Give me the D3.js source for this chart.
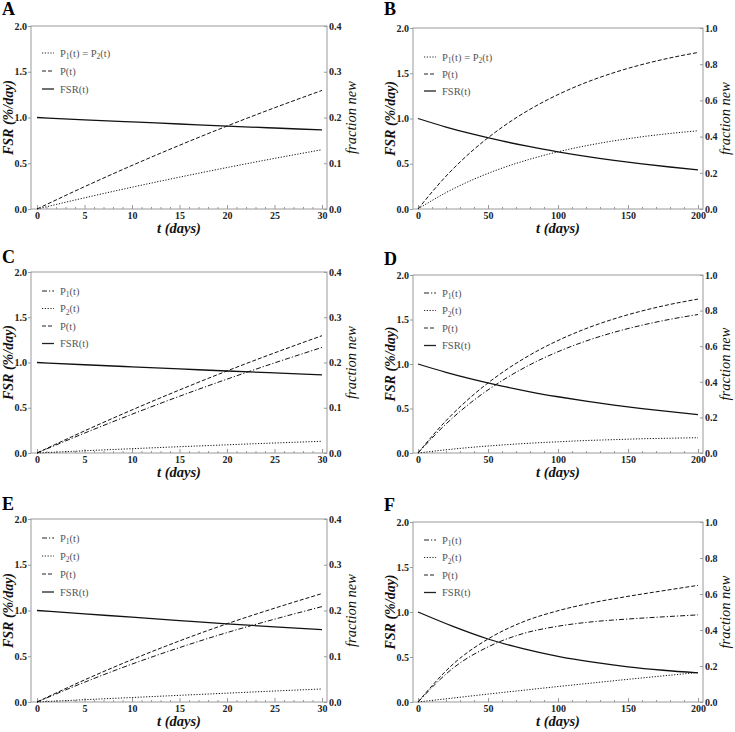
<!DOCTYPE html>
<html>
<head>
<meta charset="utf-8">
<script src="https://cdn.jsdelivr.net/npm/d3@7"></script>
<style>
  html, body { margin: 0; padding: 0; background: #fff; }
  svg { display: block; }
</style>
</head>
<body>
<svg id="chart" width="735" height="732"></svg>
<script>
// ---------------- DATA ----------------
// Short-time panels (A, C, E): t in days
const tShort = [0, 5, 10, 15, 20, 25, 30];
// Long-time panels (B, D): t in days
const tLong = [0, 20, 40, 60, 80, 100, 120, 140, 160, 180, 200];
// Panel F time points
const tF = [0, 25, 50, 75, 100, 125, 150, 175, 200];

// Panel A
const fsrA = [1.0, 0.975, 0.952, 0.929, 0.906, 0.885, 0.864];
const pA   = [0, 0.0488, 0.0952, 0.1393, 0.1813, 0.2212, 0.2592];
const p12A = [0, 0.0244, 0.0476, 0.0696, 0.0906, 0.1106, 0.1296];

// Panel B
const fsrB = [1.0, 0.906, 0.824, 0.752, 0.688, 0.632, 0.582, 0.538, 0.499, 0.464, 0.432];
const pB   = [0, 0.1813, 0.3297, 0.4512, 0.5507, 0.6321, 0.6988, 0.7534, 0.7981, 0.8347, 0.8647];
const p12B = [0, 0.0906, 0.1648, 0.2256, 0.2753, 0.3161, 0.3494, 0.3767, 0.3991, 0.4173, 0.4323];

// Panel C
const fsrC = [1.0, 0.975, 0.952, 0.929, 0.906, 0.885, 0.864];
const p1C  = [0, 0.0439, 0.0857, 0.1254, 0.1632, 0.1991, 0.2333];
const p2C  = [0, 0.0049, 0.0095, 0.0139, 0.0181, 0.0221, 0.0259];
const pC   = [0, 0.0488, 0.0952, 0.1393, 0.1813, 0.2212, 0.2592];

// Panel D
const fsrD = [1.0, 0.906, 0.824, 0.752, 0.688, 0.632, 0.582, 0.538, 0.499, 0.464, 0.432];
const p1D  = [0, 0.163, 0.297, 0.406, 0.496, 0.569, 0.629, 0.678, 0.718, 0.751, 0.778];
const p2D  = [0, 0.018, 0.033, 0.045, 0.055, 0.063, 0.070, 0.075, 0.080, 0.083, 0.086];
const pD   = [0, 0.1813, 0.3297, 0.4512, 0.5507, 0.6321, 0.6988, 0.7534, 0.7981, 0.8347, 0.8647];

// Panel E
const fsrE = [1.0, 0.963, 0.927, 0.89, 0.854, 0.821, 0.79];
const p1E  = [0, 0.0432, 0.0829, 0.1189, 0.1517, 0.181, 0.2085];
const p2E  = [0, 0.005, 0.0098, 0.0146, 0.0193, 0.024, 0.0285];
const pE   = [0, 0.0482, 0.0927, 0.1335, 0.171, 0.205, 0.237];

// Panel F
const fsrF = [1.0, 0.84, 0.70, 0.593, 0.507, 0.442, 0.391, 0.353, 0.324];
const p1F  = [0, 0.188, 0.306, 0.38, 0.421, 0.446, 0.461, 0.473, 0.484];
const p2F  = [0, 0.022, 0.044, 0.065, 0.086, 0.106, 0.126, 0.145, 0.164];
const pF   = [0, 0.21, 0.35, 0.445, 0.507, 0.552, 0.587, 0.618, 0.648];

// Tick values and labels
const xTicksShort = [0, 5, 10, 15, 20, 25, 30];
const xTicksLong = [0, 50, 100, 150, 200];
const yLeftTicks = [0, 0.5, 1.0, 1.5, 2.0];
const yRightTicksShort = [0, 0.1, 0.2, 0.3, 0.4];
const yRightTicksLong = [0, 0.2, 0.4, 0.6, 0.8, 1.0];

const panelLetters = ["A", "B", "C", "D", "E", "F"];
const xTitle = "t (days)";
const yLeftTitle = "FSR (%/day)";
const yRightTitle = "fraction new";

// Legend labels ("_n" = subscript digit)
const legendSame = ["P_1(t) = P_2(t)", "P(t)", "FSR(t)"];
const legendSplit = ["P_1(t)", "P_2(t)", "P(t)", "FSR(t)"];

// ---------------- LAYOUT / STYLE ----------------
const DASH = { dot: "1.2,1.6", dash: "4,2", dashdot: "5,2,1.2,2", solid: null };
const SERIF = "'Liberation Serif', 'Times New Roman', Times, serif";

const leftCol = { frameL: 31, frameR: 327, x0: 37, x1: 322 };
const rightCol = { frameL: 413, frameR: 703, x0: 418, x1: 698 };

const panels = [
  { letter: panelLetters[0], col: leftCol, top: 26, bottom: 209, letterY: 15,
    t: tShort, xMax: 30, xTicks: xTicksShort, minorStep: 1, rMax: 0.4, rTicks: yRightTicksShort,
    legendY0: 53, legendStep: 18,
    series: [
      { v: p12A, axis: "r", dash: "dot", label: legendSame[0] },
      { v: pA, axis: "r", dash: "dash", label: legendSame[1] },
      { v: fsrA, axis: "l", dash: "solid", label: legendSame[2] } ] },
  { letter: panelLetters[1], col: rightCol, top: 28, bottom: 209, letterY: 15,
    t: tLong, xMax: 200, xTicks: xTicksLong, minorStep: 10, rMax: 1.0, rTicks: yRightTicksLong,
    legendY0: 57, legendStep: 17,
    series: [
      { v: p12B, axis: "r", dash: "dot", label: legendSame[0] },
      { v: pB, axis: "r", dash: "dash", label: legendSame[1] },
      { v: fsrB, axis: "l", dash: "solid", label: legendSame[2] } ] },
  { letter: panelLetters[2], col: leftCol, top: 272, bottom: 453, letterY: 263,
    t: tShort, xMax: 30, xTicks: xTicksShort, minorStep: 1, rMax: 0.4, rTicks: yRightTicksShort,
    legendY0: 291, legendStep: 17.5,
    series: [
      { v: p1C, axis: "r", dash: "dashdot", label: legendSplit[0] },
      { v: p2C, axis: "r", dash: "dot", label: legendSplit[1] },
      { v: pC, axis: "r", dash: "dash", label: legendSplit[2] },
      { v: fsrC, axis: "l", dash: "solid", label: legendSplit[3] } ] },
  { letter: panelLetters[3], col: rightCol, top: 275, bottom: 453, letterY: 265,
    t: tLong, xMax: 200, xTicks: xTicksLong, minorStep: 10, rMax: 1.0, rTicks: yRightTicksLong,
    legendY0: 293, legendStep: 17.5,
    series: [
      { v: p1D, axis: "r", dash: "dashdot", label: legendSplit[0] },
      { v: p2D, axis: "r", dash: "dot", label: legendSplit[1] },
      { v: pD, axis: "r", dash: "dash", label: legendSplit[2] },
      { v: fsrD, axis: "l", dash: "solid", label: legendSplit[3] } ] },
  { letter: panelLetters[4], col: leftCol, top: 519, bottom: 702, letterY: 510,
    t: tShort, xMax: 30, xTicks: xTicksShort, minorStep: 1, rMax: 0.4, rTicks: yRightTicksShort,
    legendY0: 538, legendStep: 18,
    series: [
      { v: p1E, axis: "r", dash: "dashdot", label: legendSplit[0] },
      { v: p2E, axis: "r", dash: "dot", label: legendSplit[1] },
      { v: pE, axis: "r", dash: "dash", label: legendSplit[2] },
      { v: fsrE, axis: "l", dash: "solid", label: legendSplit[3] } ] },
  { letter: panelLetters[5], col: rightCol, top: 522, bottom: 702, letterY: 511,
    t: tF, xMax: 200, xTicks: xTicksLong, minorStep: 10, rMax: 1.0, rTicks: yRightTicksLong,
    legendY0: 540, legendStep: 17.5,
    series: [
      { v: p1F, axis: "r", dash: "dashdot", label: legendSplit[0] },
      { v: p2F, axis: "r", dash: "dot", label: legendSplit[1] },
      { v: pF, axis: "r", dash: "dash", label: legendSplit[2] },
      { v: fsrF, axis: "l", dash: "solid", label: legendSplit[3] } ] }
];

const svg = d3.select("#chart");
const FRAME = "#9a9a9a";
const TICKTXT = "#222";

function addSubText(sel, str) {
  const parts = str.split(/_(\d)/);
  parts.forEach((p, i) => {
    if (p === "") return;
    if (i % 2 === 1) {
      sel.append("tspan").attr("font-size", "7.5px").attr("dy", "2.5").text(p);
    } else {
      const ts = sel.append("tspan").text(p);
      if (i > 0) ts.attr("dy", "-2.5");
    }
  });
}

panels.forEach(P => {
  const g = svg.append("g");
  const x = d3.scaleLinear().domain([0, P.xMax]).range([P.col.x0, P.col.x1]);
  const yL = d3.scaleLinear().domain([0, 2]).range([P.bottom, P.top]);
  const yR = d3.scaleLinear().domain([0, P.rMax]).range([P.bottom, P.top]);
  const fL = P.col.frameL, fR = P.col.frameR;

  // Frame
  g.append("rect").attr("x", fL).attr("y", P.top)
    .attr("width", fR - fL).attr("height", P.bottom - P.top)
    .attr("fill", "none").attr("stroke", FRAME).attr("stroke-width", 1);

  // Bottom axis (ticks inward)
  const minor = d3.range(0, P.xMax + 1e-9, P.minorStep).filter(v => !P.xTicks.includes(v));
  const axB = g.append("g").attr("transform", `translate(0,${P.bottom})`)
    .call(d3.axisBottom(x).tickValues(P.xTicks).tickSizeInner(-4).tickSizeOuter(0).tickPadding(0)
      .tickFormat(d3.format("d")));
  axB.select(".domain").remove();
  axB.selectAll(".tick line").attr("stroke", FRAME);
  axB.selectAll(".tick text").attr("y", 10).attr("dy", null)
    .attr("font-family", SERIF).attr("font-weight", "bold").attr("font-size", "10px").attr("fill", TICKTXT);
  const axBm = g.append("g").attr("transform", `translate(0,${P.bottom})`)
    .call(d3.axisBottom(x).tickValues(minor).tickSizeInner(-2).tickSizeOuter(0).tickFormat(""));
  axBm.select(".domain").remove();
  axBm.selectAll(".tick line").attr("stroke", FRAME);

  // Left axis
  const axL = g.append("g").attr("transform", `translate(${fL},0)`)
    .call(d3.axisLeft(yL).tickValues(yLeftTicks).tickSizeInner(3).tickSizeOuter(0).tickPadding(1)
      .tickFormat(d3.format(".1f")));
  axL.select(".domain").remove();
  axL.selectAll(".tick line").attr("stroke", FRAME);
  axL.selectAll(".tick text").attr("font-family", SERIF).attr("font-weight", "bold")
    .attr("font-size", "10px").attr("fill", TICKTXT);

  // Right axis
  const axR = g.append("g").attr("transform", `translate(${fR},0)`)
    .call(d3.axisRight(yR).tickValues(P.rTicks).tickSizeInner(0).tickSizeOuter(0).tickPadding(2)
      .tickFormat(d3.format(".1f")));
  axR.select(".domain").remove();
  axR.selectAll(".tick text").attr("font-family", SERIF).attr("font-weight", "bold")
    .attr("font-size", "10px").attr("fill", TICKTXT);
  g.append("g").attr("transform", `translate(${fR},0)`)
    .call(d3.axisLeft(yR).tickValues(P.rTicks).tickSizeInner(3).tickSizeOuter(0).tickFormat(""))
    .call(a => a.select(".domain").remove())
    .selectAll(".tick line").attr("stroke", FRAME);

  // Lines
  P.series.forEach(s => {
    const yS = s.axis === "l" ? yL : yR;
    const line = d3.line().x((d, i) => x(P.t[i])).y(d => yS(d)).curve(d3.curveMonotoneX);
    g.append("path").datum(s.v).attr("d", line)
      .attr("fill", "none").attr("stroke", "#111")
      .attr("stroke-width", s.dash === "solid" ? 1.3 : 1)
      .attr("stroke-dasharray", DASH[s.dash]);
  });

  // Legend
  const lx0 = fL + 11, lx1 = fL + 23, tx = fL + 29;
  P.series.forEach((s, i) => {
    const yy = P.legendY0 + i * P.legendStep;
    g.append("line").attr("x1", lx0).attr("x2", lx1).attr("y1", yy).attr("y2", yy)
      .attr("stroke", "#222").attr("stroke-width", s.dash === "solid" ? 1.3 : 1)
      .attr("stroke-dasharray", DASH[s.dash]);
    const t = g.append("text").attr("x", tx).attr("y", yy + 3.5)
      .attr("font-family", SERIF).attr("font-size", "10.5px").attr("fill", "#555");
    addSubText(t, s.label);
  });

  // Titles
  g.append("text").attr("x", (fL + fR) / 2).attr("y", P.bottom + 24)
    .attr("text-anchor", "middle").attr("font-family", SERIF).attr("font-style", "italic")
    .attr("font-weight", "bold").attr("font-size", "14.5px").attr("fill", "#111").text(xTitle);
  const cy = (P.top + P.bottom) / 2;
  g.append("text").attr("transform", `translate(${fL - 18},${cy}) rotate(-90)`)
    .attr("text-anchor", "middle").attr("font-family", SERIF).attr("font-style", "italic")
    .attr("font-weight", "bold").attr("font-size", "14px").attr("fill", "#111").text(yLeftTitle);
  g.append("text").attr("transform", `translate(${Math.min(fR + 29, 730)},${cy}) rotate(-90)`)
    .attr("text-anchor", "middle").attr("font-family", SERIF).attr("font-style", "italic")
    .attr("font-size", "14.5px").attr("fill", "#111").text(yRightTitle);

  // Panel letter
  g.append("text").attr("x", fL - 29).attr("y", P.letterY)
    .attr("font-family", SERIF).attr("font-weight", "bold").attr("font-size", "18px")
    .attr("fill", "#000").text(P.letter);
});
</script>
</body>
</html>
